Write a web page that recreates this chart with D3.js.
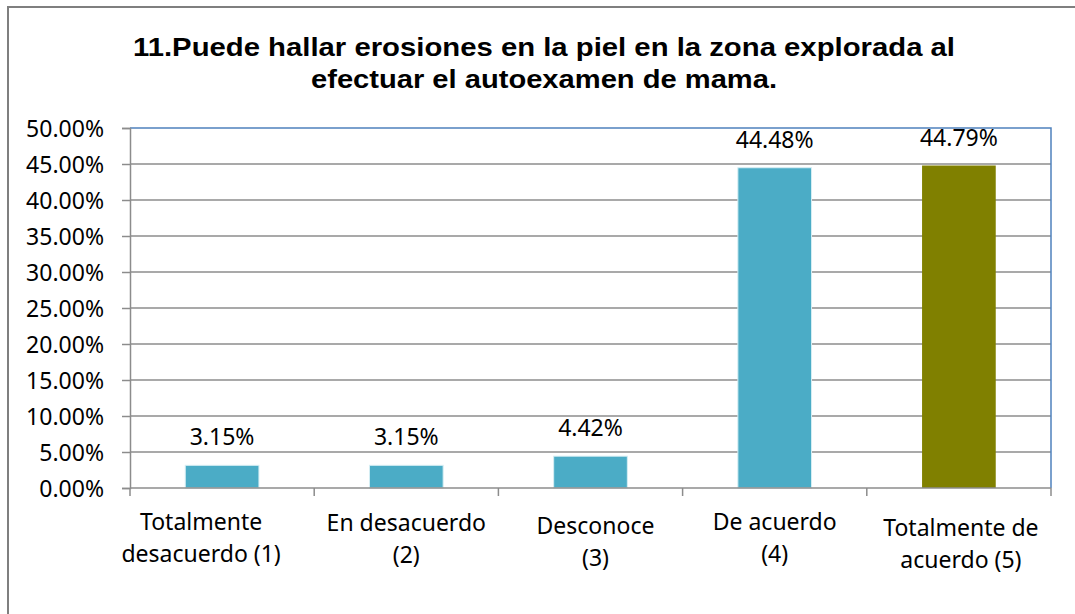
<!DOCTYPE html>
<html>
<head>
<meta charset="utf-8">
<script src="https://cdn.jsdelivr.net/npm/d3@7"></script>
<style>
  body { margin: 0; background: #fff; }
  svg { display: block; }
</style>
</head>
<body>
<svg id="chart" width="1075" height="614"></svg>
<script>
// chart data
const categories = [
    ["Totalmente", "desacuerdo (1)"],
    ["En desacuerdo", "(2)"],
    ["Desconoce", "(3)"],
    ["De acuerdo", "(4)"],
    ["Totalmente de", "acuerdo (5)"]
];
const values = [3.15, 3.15, 4.42, 44.48, 44.79];
const barColors = ["#4bacc6", "#4bacc6", "#4bacc6", "#4bacc6", "#808000"];
const yTicks = [0, 5, 10, 15, 20, 25, 30, 35, 40, 45, 50];
const titleLines = [
    "11.Puede hallar erosiones en la piel en la zona explorada al",
    "efectuar el autoexamen de mama."
];

let svg = d3.select("#chart");
let margin = {top: 128, right: 24, bottom: 126, left: 130},
    width = +svg.attr("width") - margin.left - margin.right,
    height = +svg.attr("height") - margin.top - margin.bottom;

// outer frame
svg.append("path")
    .attr("d", "M8,614 V7 H1075")
    .attr("fill", "none")
    .attr("stroke", "#7f7f7f")
    .attr("stroke-width", 2);

// title
svg.append("g").selectAll("text")
    .data(titleLines)
    .enter().append("text")
    .attr("x", 544)
    .attr("y", (d, i) => 56 + i * 32)
    .attr("text-anchor", "middle")
    .attr("font-family", "'Liberation Sans', Arial, sans-serif")
    .attr("font-weight", "bold")
    .attr("font-size", 26)
    .attr("textLength", (d, i) => i === 0 ? 822 : 466)
    .attr("lengthAdjust", "spacingAndGlyphs")
    .attr("fill", "#000")
    .text(d => d);

let g = svg.append("g").attr("transform", "translate(" + margin.left + "," + margin.top + ")");

let x = d3.scaleBand()
    .domain(d3.range(categories.length))
    .range([0, width])
    .paddingInner(0.6)
    .paddingOuter(0.3);

let xOuter = d3.scaleBand()
    .domain(d3.range(categories.length))
    .range([0, width]);

let y = d3.scaleLinear()
    .domain([0, 50])
    .range([height, 0]);

const font = "'Noto Sans', 'Open Sans', sans-serif";

// gridlines
g.append("g")
    .selectAll("line")
    .data(yTicks.filter(t => t > 0 && t < 50))
    .enter().append("line")
    .attr("x1", 0)
    .attr("x2", width)
    .attr("y1", d => y(d))
    .attr("y2", d => y(d))
    .attr("stroke", "#8c8c8c")
    .attr("stroke-width", 1.5);

// plot area border (top & right)
g.append("path")
    .attr("d", "M0," + y(50) + " H" + width + " V" + height)
    .attr("fill", "none")
    .attr("stroke", "#4f81bd")
    .attr("stroke-width", 1.5);

// bars
g.selectAll(".bar")
    .data(values)
    .enter().append("rect")
    .attr("class", "bar")
    .attr("x", (d, i) => x(i))
    .attr("width", x.bandwidth())
    .attr("y", d => y(d))
    .attr("height", d => height - y(d))
    .attr("fill", (d, i) => barColors[i])
    .attr("stroke", (d, i) => i === 4 ? "none" : "#d6eef4")
    .attr("stroke-width", 1);

// value labels
g.selectAll(".val")
    .data(values)
    .enter().append("text")
    .attr("class", "val")
    .attr("x", (d, i) => x(i) + x.bandwidth() / 2)
    .attr("y", d => y(d) - 20)
    .attr("text-anchor", "middle")
    .attr("font-family", font)
    .attr("font-size", 23)
    .attr("fill", "#000")
    .text(d => d.toFixed(2) + "%");

// y axis
let yAxis = g.append("g")
    .call(d3.axisLeft(y).tickValues(yTicks).tickSize(8).tickFormat(d => d.toFixed(2) + "%"));
yAxis.select(".domain").attr("stroke", "#8c8c8c").attr("stroke-width", 1.5);
yAxis.selectAll(".tick line").attr("stroke", "#8c8c8c").attr("stroke-width", 1.5);
yAxis.selectAll(".tick text")
    .attr("x", -26)
    .attr("dy", "0.36em")
    .attr("font-family", font)
    .attr("font-size", 23)
    .attr("fill", "#000");

// x axis
let xAxis = g.append("g").attr("transform", "translate(0," + height + ")");
xAxis.append("line")
    .attr("x1", 0).attr("x2", width)
    .attr("stroke", "#8c8c8c").attr("stroke-width", 1.5);
xAxis.selectAll(".xtick")
    .data(d3.range(categories.length + 1))
    .enter().append("line")
    .attr("class", "xtick")
    .attr("x1", d => d * xOuter.step())
    .attr("x2", d => d * xOuter.step())
    .attr("y1", 0).attr("y2", 8)
    .attr("stroke", "#8c8c8c").attr("stroke-width", 1.5);

// small nudges so wrapped labels sit like the original layout
let labelNudge = [{dx: -21, dy: -1}, {dx: 0, dy: 0}, {dx: 5, dy: 3}, {dx: 0, dy: -1}, {dx: 2, dy: 5}];

xAxis.selectAll(".xlabel")
    .data(categories)
    .enter().append("text")
    .attr("class", "xlabel")
    .attr("text-anchor", "middle")
    .attr("font-family", font)
    .attr("font-size", 23)
    .attr("fill", "#000")
    .each(function(d, i) {
        let cx = xOuter(i) + xOuter.bandwidth() / 2 + labelNudge[i].dx;
        d3.select(this).selectAll("tspan")
            .data(d)
            .enter().append("tspan")
            .attr("x", cx)
            .attr("y", (t, j) => 43 + labelNudge[i].dy + j * 32)
            .text(t => t);
    });
</script>
</body>
</html>
